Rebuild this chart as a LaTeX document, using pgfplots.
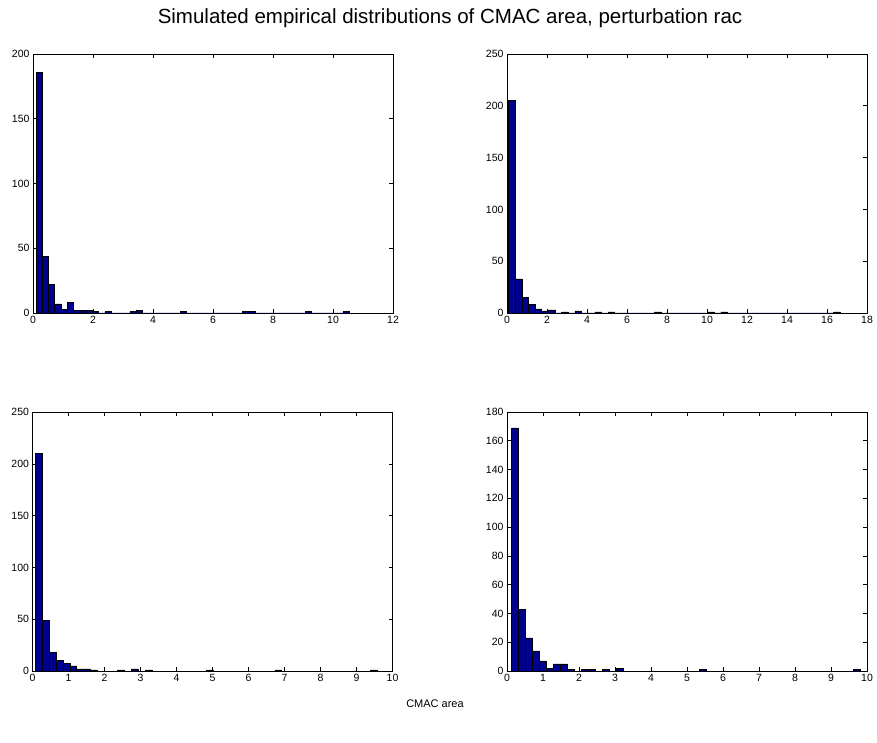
\documentclass[border=0pt]{standalone}
\usepackage{fontspec}
\setmainfont{Liberation Sans}
\usepackage{pgfplots}
\usepackage{pgfplotstable}
\pgfplotsset{compat=1.18}

\definecolor{barblue}{RGB}{0,0,143}

% Histogram tables: left bin edge and count (the last row closes the final bin)
\pgfplotstableread{
edge count
0.100 186
0.309 44
0.518 22
0.726 7
0.935 3
1.144 8
1.353 2
1.562 2
1.770 2
1.979 1
2.188 0
2.397 1
2.606 0
2.814 0
3.023 0
3.232 1
3.441 2
3.650 0
3.858 0
4.067 0
4.276 0
4.485 0
4.694 0
4.902 1
5.111 0
5.320 0
5.529 0
5.738 0
5.946 0
6.155 0
6.364 0
6.573 0
6.782 0
6.990 1
7.199 1
7.408 0
7.617 0
7.826 0
8.034 0
8.243 0
8.452 0
8.661 0
8.870 0
9.078 1
9.287 0
9.496 0
9.705 0
9.914 0
10.122 0
10.331 1
10.540 0
}\histA

\pgfplotstableread{
edge count
0.080 205
0.412 33
0.744 15
1.075 8
1.407 4
1.739 2
2.071 3
2.403 0
2.734 1
3.066 0
3.398 2
3.730 0
4.062 0
4.393 1
4.725 0
5.057 1
5.389 0
5.721 0
6.052 0
6.384 0
6.716 0
7.048 0
7.380 1
7.711 0
8.043 0
8.375 0
8.707 0
9.039 0
9.370 0
9.702 0
10.034 1
10.366 0
10.698 1
11.029 0
11.361 0
11.693 0
12.025 0
12.357 0
12.688 0
13.020 0
13.352 0
13.684 0
14.016 0
14.347 0
14.679 0
15.011 0
15.343 0
15.675 0
16.006 0
16.338 1
16.670 0
}\histB

\pgfplotstableread{
edge count
0.090 210
0.280 49
0.470 18
0.659 10
0.849 7
1.039 5
1.229 2
1.419 2
1.608 1
1.798 0
1.988 0
2.178 0
2.368 1
2.557 0
2.747 2
2.937 0
3.127 1
3.317 0
3.506 0
3.696 0
3.886 0
4.076 0
4.266 0
4.455 0
4.645 0
4.835 1
5.025 0
5.215 0
5.404 0
5.594 0
5.784 0
5.974 0
6.164 0
6.353 0
6.543 0
6.733 1
6.923 0
7.113 0
7.302 0
7.492 0
7.682 0
7.872 0
8.062 0
8.251 0
8.441 0
8.631 0
8.821 0
9.011 0
9.200 0
9.390 1
9.580 0
}\histC

\pgfplotstableread{
edge count
0.120 169
0.314 43
0.508 23
0.701 14
0.895 7
1.089 2
1.283 5
1.477 5
1.670 1
1.864 0
2.058 1
2.252 1
2.446 0
2.639 1
2.833 0
3.027 2
3.221 0
3.415 0
3.608 0
3.802 0
3.996 0
4.190 0
4.384 0
4.577 0
4.771 0
4.965 0
5.159 0
5.353 1
5.546 0
5.740 0
5.934 0
6.128 0
6.322 0
6.515 0
6.709 0
6.903 0
7.097 0
7.291 0
7.484 0
7.678 0
7.872 0
8.066 0
8.260 0
8.453 0
8.647 0
8.841 0
9.035 0
9.229 0
9.422 0
9.616 1
9.810 0
}\histD

\pgfplotsset{
  histpanel/.style={
    scale only axis,
    width=360pt, height=259pt,
    anchor=south west,
    axis line style={line width=0.7pt},
    tick align=inside,
    tick pos=both,
    major tick length=4pt,
    tick style={line width=0.6pt, black},
    ymin=0,
    tick label style={font=\fontsize{10.5}{11}\selectfont},
    /pgf/number format/assume math mode=true,
  },
  histbars/.style={ybar interval, fill=barblue, draw=black, line width=0.6pt},
}

\begin{document}
\begin{tikzpicture}[x=1pt,y=1pt]
\useasboundingbox (0,0) rectangle (877,742);

\begin{axis}[histpanel, at={(33pt,429pt)},
  xmin=0, xmax=12, xtick={0,2,...,12},
  ymax=200, ytick={0,50,...,200}]
  \addplot[histbars] table[x=edge, y=count] {\histA};
\end{axis}

\begin{axis}[histpanel, at={(507pt,429pt)},
  xmin=0, xmax=18, xtick={0,2,...,18},
  ymax=250, ytick={0,50,...,250}]
  \addplot[histbars] table[x=edge, y=count] {\histB};
\end{axis}

\begin{axis}[histpanel, at={(32.5pt,71pt)},
  xmin=0, xmax=10, xtick={0,1,...,10},
  ymax=250, ytick={0,50,...,250}]
  \addplot[histbars] table[x=edge, y=count] {\histC};
\end{axis}

\begin{axis}[histpanel, at={(507pt,71pt)},
  xmin=0, xmax=10, xtick={0,1,...,10},
  ymax=180, ytick={0,20,...,180}]
  \addplot[histbars] table[x=edge, y=count] {\histD};
\end{axis}

\node[font=\fontsize{20.5}{24}\selectfont] at (450,723.5) {Simulated empirical distributions of CMAC area, perturbation rac};
\node[font=\fontsize{11}{13}\selectfont] at (435,38) {CMAC area};
\end{tikzpicture}
\end{document}
